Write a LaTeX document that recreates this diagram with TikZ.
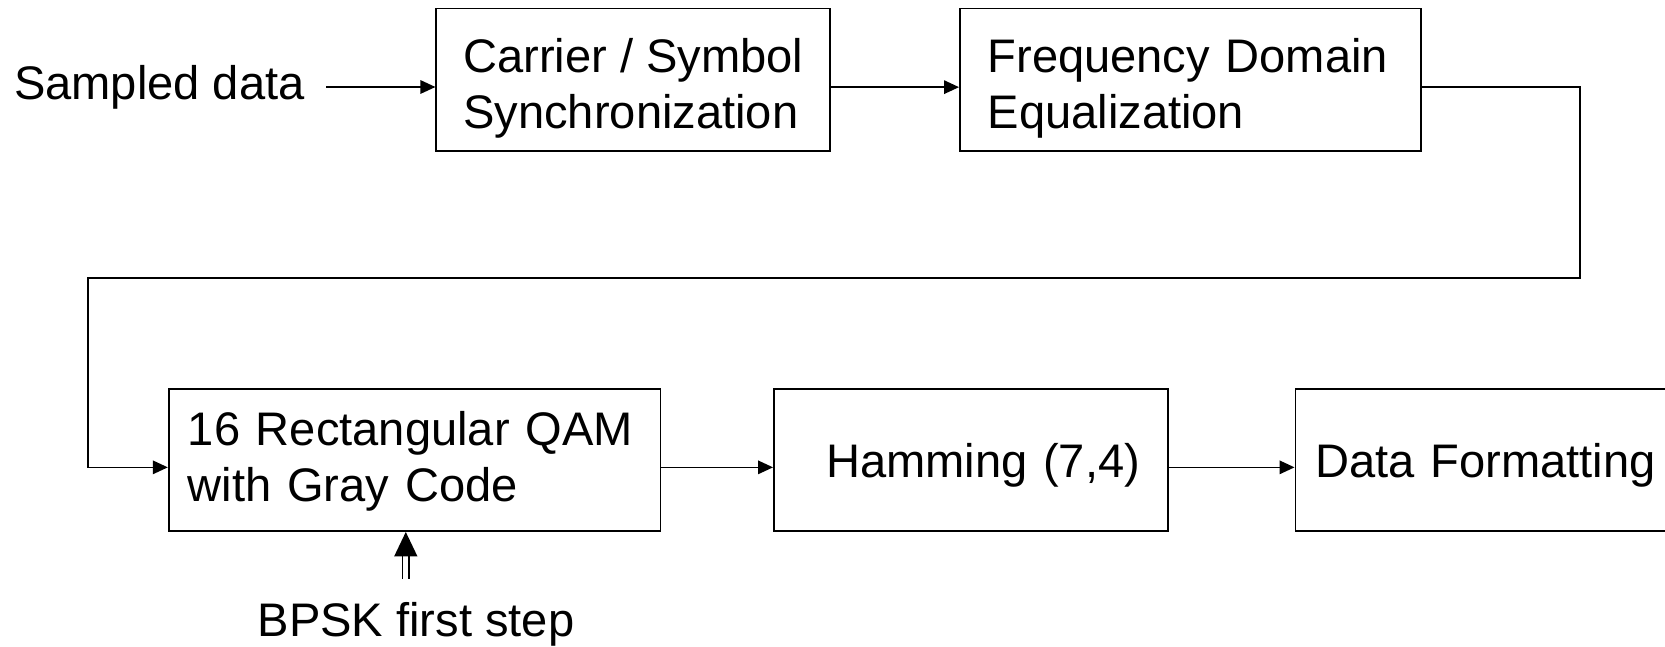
\documentclass[tikz,border=0pt]{standalone}
\usepackage{fontspec}
\setmainfont{Liberation Sans}
\usepackage{tikz}
\usetikzlibrary{arrows.meta}
\tikzset{>={Triangle[length=3mm, width=2.7mm]}}
\tikzset{blk/.style={draw, line width=1.1pt, minimum height=2.846cm, inner ysep=0pt, align=left}}
\hyphenpenalty=10000

\begin{document}
\begin{tikzpicture}[font=\fontsize{26.8}{31.9}\selectfont]
    \path[use as bounding box, clip](0, 0)rectangle(33.3, -12.94);
    \node[anchor=east, inner xsep=.42cm](sd)at(6.52, -1.74){Sampled data};
    \node[blk, minimum width=7.88cm, inner xsep=0pt](car)at(12.668, -1.593){\rule{0pt}{1.02cm}Carrier / Symbol\\Synchronization};
    \node[blk, text width=8.116cm, inner xsep=.552cm](fq)at(23.81, -1.593){\rule{0pt}{1.02cm}Frequency Domain\\Equalization};
    \node[blk, text width=9.07cm, inner xsep=.382cm](qam)at(8.293, -9.197){\rule{0pt}{.76cm}16 Rectangular QAM\\with Gray Code};
    \node[blk, text width=6.84cm, inner xsep=.52cm](ham)at(19.42, -9.197){\rule{0pt}{.89cm}\hspace*{.52cm}Hamming (7,4)};
    \node[blk, text width=8.2cm, inner xsep=.4cm](df)at(30.41, -9.197){\rule{0pt}{.89cm}Data Formatting};
    \node(bp)at(8.32, -12.48){BPSK first step};
    \coordinate(tr)at(31.6, -5.56);
    \coordinate(tl)at(1.76, -5.56);
    \coordinate(bs)at(8.116, -11.58);
    \draw[->, line width=.9pt](sd.east)--(sd.east -| car.west);
    \draw[->, line width=.9pt]([yshift=-1.5mm]car.east)--([yshift=-1.5mm]fq.west);
    \draw[->, line width=.9pt]([yshift=-1.5mm]fq.east)-|(tr)--(tl)|-([yshift=-1.5mm]qam.west);
    \draw[->, line width=.9pt]([yshift=-1.5mm]qam.east)--([yshift=-1.5mm]ham.west);
    \draw[->, line width=.9pt]([yshift=-1.5mm]ham.east)--([yshift=-1.5mm]df.west);
    \draw[double, line width=.9pt, double distance=3pt, -{Triangle[length=4.9mm, width=4.6mm]}](bs)--(bs |- qam.south);
\end{tikzpicture}
\end{document}
